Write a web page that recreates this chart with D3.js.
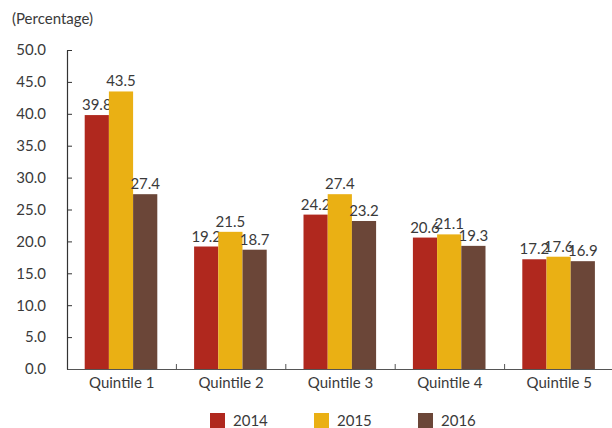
<!DOCTYPE html>
<html><head><meta charset="utf-8">
<script src="https://cdn.jsdelivr.net/npm/d3@7"></script>
<style>body{margin:0;background:#fff}svg{display:block}text{font-family:Lato,"Open Sans",sans-serif;fill:#3a3a3a}</style>
</head><body><svg id="c" width="612" height="428"></svg>
<script>
const categories = ["Quintile 1","Quintile 2","Quintile 3","Quintile 4","Quintile 5"];
const years = ["2014","2015","2016"];
const v2014 = [39.8,19.2,24.2,20.6,17.2];
const v2015 = [43.5,21.5,27.4,21.1,17.6];
const v2016 = [27.4,18.7,23.2,19.3,16.9];
const yTicks = [0,5,10,15,20,25,30,35,40,45,50];
const colors = ["#B0281E","#EAB014","#6B4638"];
const series = [v2014,v2015,v2016];

const svg = d3.select("#c");
const x = d3.scaleBand().domain(categories).range([67,614]).paddingInner(0).paddingOuter(0);
const y = d3.scaleLinear().domain([0,50]).range([369,50]);
const barW = 24.2;
const groupOff = 17.7;

// y axis
const yAxis = svg.append("g").attr("transform","translate(67,0)")
  .call(d3.axisLeft(y).tickValues(yTicks).tickFormat(d3.format(".1f")).tickSize(5).tickSizeOuter(0));
yAxis.select(".domain").attr("stroke","#333").attr("stroke-width",1.2);
yAxis.selectAll(".tick line").attr("stroke","#333").attr("x1",0).attr("x2",5);
yAxis.selectAll(".tick text").attr("x",-21).style("font-size","15px").attr("fill","#3a3a3a");

// bars
categories.forEach((c,i)=>{
  series.forEach((s,j)=>{
    const bx = x(c)+groupOff+j*barW;
    svg.append("rect").attr("x",bx).attr("y",y(s[i])).attr("width",barW).attr("height",y(0)-y(s[i]))
      .attr("fill",colors[j]);
    svg.append("text").attr("x",bx+barW/2).attr("y",y(s[i])-5).attr("text-anchor","middle")
      .style("font-size","15px").text(d3.format(".1f")(s[i]));
  });
});

// x axis
const xAxis = svg.append("g").attr("transform","translate(0,369)")
  .call(d3.axisBottom(x).tickSize(0).tickSizeOuter(0));
xAxis.select(".domain").attr("stroke","#555").attr("stroke-width",1.2);
xAxis.selectAll(".tick text").attr("dy",0).attr("y",19).style("font-size","15px").attr("fill","#3a3a3a");
// category boundary ticks
categories.slice(1).forEach(c=>{
  svg.append("line").attr("x1",x(c)).attr("x2",x(c)).attr("y1",369).attr("y2",364).attr("stroke","#555");
});

// title
svg.append("text").attr("x",12).attr("y",24).style("font-size","15px").text("(Percentage)");

// legend
const lg = svg.append("g");
years.forEach((yr,j)=>{
  const lx = 210 + j*104;
  lg.append("rect").attr("x",lx).attr("y",413).attr("width",15).attr("height",15).attr("fill",colors[j]);
  lg.append("text").attr("x",lx+23).attr("y",426).style("font-size","15px").text(yr);
});
</script></body></html>
